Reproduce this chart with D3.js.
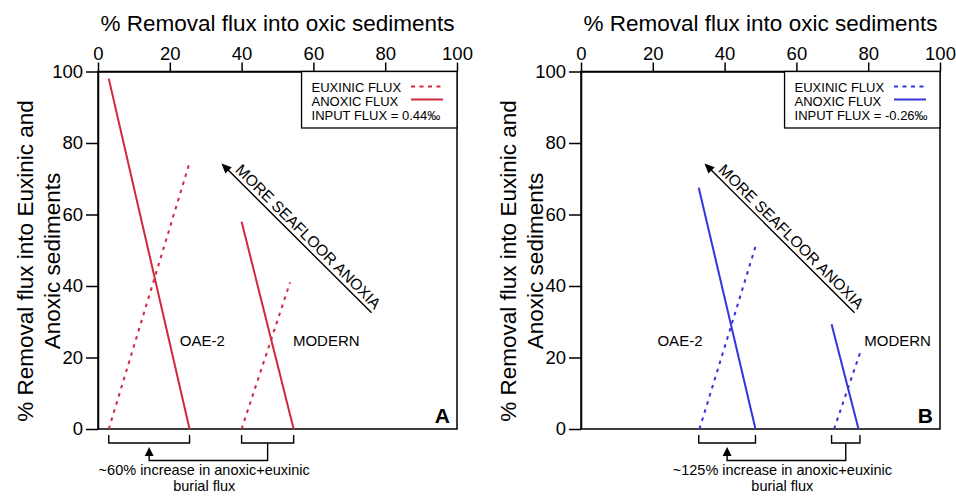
<!DOCTYPE html>
<html>
<head>
<meta charset="utf-8">
<script src="https://cdn.jsdelivr.net/npm/d3@7"></script>
<style>
  html, body { margin: 0; padding: 0; background: #fff; }
  svg { display: block; font-family: "Liberation Sans", Arial, sans-serif; }
</style>
</head>
<body>
<svg id="chart" width="956" height="496"></svg>
<script>
// ---------------- DATA ----------------
const xTicks = [0, 20, 40, 60, 80, 100];
const yTicks = [0, 20, 40, 60, 80, 100];
const panelLetters = ["A", "B"];
const inputFlux = ["0.44‰", "-0.26‰"];
const increaseText = ["~60% increase in anoxic+euxinic", "~125% increase in anoxic+euxinic"];
const scenarioNames = ["OAE-2", "MODERN"];

// [oxic %, euxinic-or-anoxic %] endpoints
const oaeAnoxicA  = [[3, 98], [25.5, 0]];
const oaeEuxinicA = [[3, 0], [25.5, 74.5]];
const modAnoxicA  = [[40, 58], [54.5, 0]];
const modEuxinicA = [[40, 0], [53.5, 41]];

const oaeAnoxicB  = [[32.8, 67.5], [48.6, 0]];
const oaeEuxinicB = [[33, 0], [48.6, 51]];
const modAnoxicB  = [[69.8, 29.3], [77.3, 0]];
const modEuxinicB = [[70.5, 0], [77.7, 21.2]];

// ---------------- LAYOUT ----------------
const svg = d3.select("#chart");
const top0 = 71.5, pw = 359, ph = 357.5;
const FONT = "'Liberation Sans', Arial, sans-serif";

function panel(cfg) {
  const g = svg.append("g").attr("transform", `translate(${cfg.left},${top0})`);
  const x = d3.scaleLinear().domain([0, 100]).range([0, pw]);
  const y = d3.scaleLinear().domain([0, 100]).range([ph, 0]);

  // frame
  g.append("rect").attr("x", 0).attr("y", 0).attr("width", pw).attr("height", ph)
    .attr("fill", "none").attr("stroke", "#000").attr("stroke-width", 1.5);

  // top axis
  const ax = g.append("g").call(d3.axisTop(x).tickValues(xTicks).tickSize(9).tickSizeOuter(0).tickPadding(3));
  // left axis
  const ay = g.append("g").call(d3.axisLeft(y).tickValues(yTicks).tickSize(12).tickSizeOuter(0).tickPadding(3));
  [ax, ay].forEach(a => {
    a.select(".domain").attr("stroke-width", 1.5);
    a.selectAll(".tick line").attr("stroke-width", 1.5);
    a.selectAll(".tick text").attr("font-size", 18.5).attr("font-family", FONT).attr("fill", "#000");
  });

  // axis titles
  g.append("text").attr("x", pw / 2).attr("y", -40.5).attr("text-anchor", "middle")
    .attr("font-size", 22.5).text("% Removal flux into oxic sediments");
  const cy = 261 - top0;
  g.append("text").attr("transform", `translate(-65,${cy}) rotate(-90)`).attr("text-anchor", "middle")
    .attr("font-size", 22.5).text("% Removal flux into Euxinic and");
  g.append("text").attr("transform", `translate(-38,${cy}) rotate(-90)`).attr("text-anchor", "middle")
    .attr("font-size", 22.5).text("Anoxic sediments");

  // data lines
  const line = d3.line().x(d => x(d[0])).y(d => y(d[1]));
  cfg.anoxic.forEach(s => g.append("path").attr("d", line(s)).attr("fill", "none")
    .attr("stroke", cfg.color).attr("stroke-width", 2));
  cfg.euxinic.forEach(s => g.append("path").attr("d", line(s)).attr("fill", "none")
    .attr("stroke", cfg.color).attr("stroke-width", 2).attr("stroke-dasharray", "3.5,5"));

  // scenario labels
  cfg.labels.forEach((lp, i) => g.append("text").attr("x", x(lp[0])).attr("y", y(lp[1]))
    .attr("dy", "0.35em").attr("font-size", 15).text(scenarioNames[i]));

  // legend
  const lx = x(56.7), ly = 0, lw = pw - x(56.7), lh = y(84.2);
  g.append("rect").attr("x", lx).attr("y", ly).attr("width", lw).attr("height", lh)
    .attr("fill", "#fff").attr("stroke", "#000").attr("stroke-width", 1.3);
  const legItems = ["EUXINIC FLUX", "ANOXIC FLUX", "INPUT FLUX = " + cfg.input];
  legItems.forEach((t, i) => g.append("text").attr("x", lx + 10).attr("y", 20 + i * 14.3)
    .attr("font-size", 13).text(t));
  g.append("line").attr("x1", pw - 46).attr("x2", pw - 14).attr("y1", 15).attr("y2", 15)
    .attr("stroke", cfg.color).attr("stroke-width", 2).attr("stroke-dasharray", "4,4.5");
  g.append("line").attr("x1", pw - 46).attr("x2", pw - 14).attr("y1", 28).attr("y2", 28)
    .attr("stroke", cfg.color).attr("stroke-width", 2);

  // anoxia arrow
  const tip = [x(34.4), y(74.3)], tail = [x(76.2), y(32.5)];
  const ang = Math.atan2(tail[1] - tip[1], tail[0] - tip[0]);
  const ux = Math.cos(ang), uy = Math.sin(ang);
  const hl = 10, hw = 4.5;
  g.append("line").attr("x1", tip[0] + ux * hl * 0.8).attr("y1", tip[1] + uy * hl * 0.8)
    .attr("x2", tail[0]).attr("y2", tail[1]).attr("stroke", "#000").attr("stroke-width", 1.4);
  g.append("path").attr("d", `M${tip[0]},${tip[1]} L${tip[0] + ux * hl - uy * hw},${tip[1] + uy * hl + ux * hw} L${tip[0] + ux * hl + uy * hw},${tip[1] + uy * hl - ux * hw}Z`)
    .attr("fill", "#000");
  g.append("text").attr("transform", `translate(${tail[0]},${tail[1]}) rotate(${ang * 180 / Math.PI})`)
    .attr("text-anchor", "end").attr("dy", -4).attr("font-size", 15.5).text("MORE SEAFLOOR ANOXIA");

  // brackets
  const spanOf = (arr) => [d3.min(arr.flat(), d => d[0]), d3.max(arr.flat(), d => d[0])];
  const oae = spanOf([cfg.anoxic[0], cfg.euxinic[0]]);
  const mod = spanOf([cfg.anoxic[1], cfg.euxinic[1]]);
  const b0 = ph + 6, b1 = ph + 14;
  [oae, mod].forEach(s => g.append("path")
    .attr("d", `M${x(s[0])},${b0} V${b1} H${x(s[1])} V${b0}`)
    .attr("fill", "none").attr("stroke", "#000").attr("stroke-width", 1.4));
  const cOae = x((oae[0] + oae[1]) / 2), cMod = x((mod[0] + mod[1]) / 2);
  const yLow = ph + 31.5, tipY = ph + 18;
  g.append("path").attr("d", `M${cMod},${b1} V${yLow} H${cOae} V${tipY + 7}`)
    .attr("fill", "none").attr("stroke", "#000").attr("stroke-width", 1.4);
  g.append("path").attr("d", `M${cOae},${tipY} L${cOae - 4.5},${tipY + 9} L${cOae + 4.5},${tipY + 9}Z`).attr("fill", "#000");
  const tc = x((oae[0] + mod[1]) / 2) + 3;
  g.append("text").attr("x", tc).attr("y", ph + 45.5).attr("text-anchor", "middle").attr("font-size", 14.5).text(cfg.inc);
  g.append("text").attr("x", tc).attr("y", ph + 62).attr("text-anchor", "middle").attr("font-size", 14.5).text("burial flux");

  // panel letter
  g.append("text").attr("x", pw - 7).attr("y", ph - 6).attr("text-anchor", "end")
    .attr("font-size", 21).attr("font-weight", "bold").text(cfg.letter);
}

panel({ left: 98, letter: panelLetters[0], color: "#d2283c", input: inputFlux[0], inc: increaseText[0],
  anoxic: [oaeAnoxicA, modAnoxicA], euxinic: [oaeEuxinicA, modEuxinicA],
  labels: [[22.8, 24.6], [54.3, 24.6]] });
panel({ left: 581, letter: panelLetters[1], color: "#3434dc", input: inputFlux[1], inc: increaseText[1],
  anoxic: [oaeAnoxicB, modAnoxicB], euxinic: [oaeEuxinicB, modEuxinicB],
  labels: [[21.3, 24.6], [78.9, 24.6]] });
</script>
</body>
</html>
